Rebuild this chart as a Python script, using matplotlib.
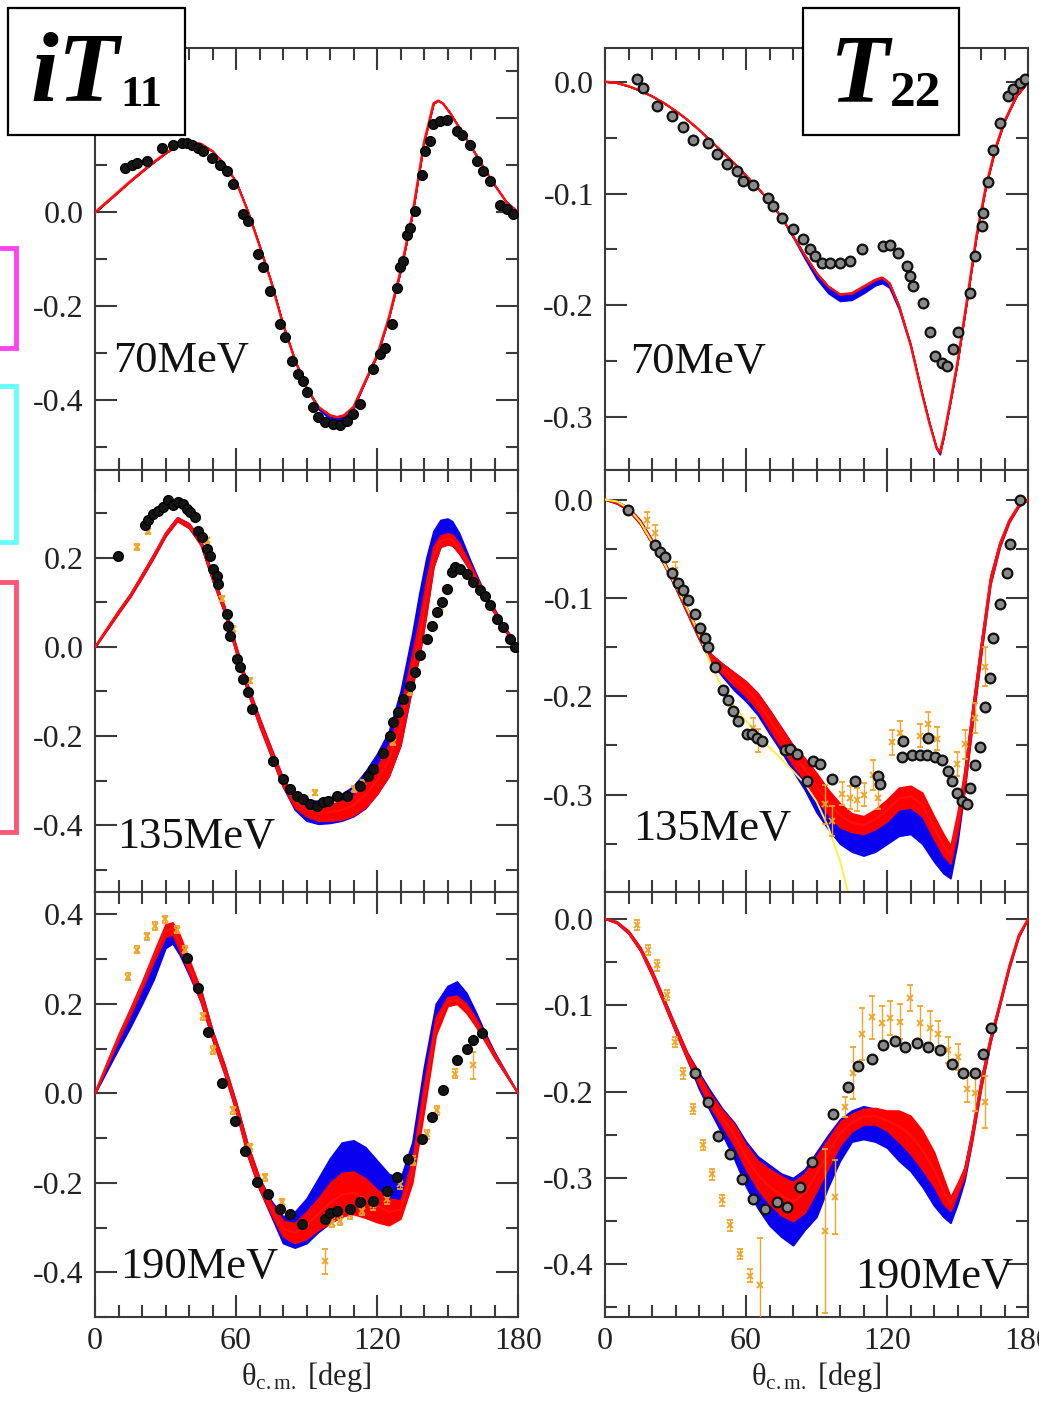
import numpy as np
import matplotlib.pyplot as plt
from matplotlib.patches import Rectangle
from matplotlib.lines import Line2D
from matplotlib.ticker import MultipleLocator, FuncFormatter

plt.rcParams['font.family'] = ['Liberation Serif', 'DejaVu Serif']
plt.rcParams['mathtext.fontset'] = 'custom'
plt.rcParams['mathtext.rm'] = 'Liberation Serif'
plt.rcParams['mathtext.it'] = 'Liberation Serif:italic'
plt.rcParams['mathtext.bf'] = 'Liberation Serif:bold'
plt.rcParams['axes.unicode_minus'] = False

# ---------------- iT11, 70 MeV ----------------
t11_70_th = [0, 5, 10, 15, 20, 25, 30, 35, 40, 45, 50, 55, 60, 65, 70, 75, 80, 85, 90, 95,
             100, 103, 106, 110, 115, 120, 125, 130, 135, 140, 144, 146, 148, 151, 155, 160, 165, 170, 175, 180]
t11_70_red = [0, 0.022, 0.044, 0.066, 0.087, 0.107, 0.126, 0.142, 0.150, 0.146, 0.130, 0.102, 0.065, 0.002,
              -0.072, -0.150, -0.240, -0.315, -0.375, -0.415, -0.433, -0.437, -0.433, -0.415, -0.36, -0.305,
              -0.225, -0.125, -0.005, 0.150, 0.232, 0.238, 0.232, 0.212, 0.180, 0.14, 0.098, 0.058, 0.022, 0]
t11_70_blue_lo = [0, 0.022, 0.044, 0.066, 0.087, 0.107, 0.126, 0.142, 0.150, 0.146, 0.130, 0.102, 0.065, 0.002,
                  -0.072, -0.150, -0.240, -0.315, -0.375, -0.42, -0.441, -0.445, -0.441, -0.42, -0.36, -0.305,
                  -0.225, -0.125, -0.005, 0.150, 0.232, 0.238, 0.232, 0.212, 0.180, 0.14, 0.098, 0.058, 0.022, 0]
t11_70_dat_th = [12.8, 15.6, 17.7, 22.0, 28.4, 33.3, 36.9, 39.0, 41.1, 44.0, 46.1, 49.6, 53.2, 56.0, 58.9, 63.1,
                 65.2, 69.5, 71.6, 74.5, 78.7, 80.9, 83.7, 86.5, 88.7, 90.1, 92.9, 95.0, 97.9, 101.4, 104.3, 107.1,
                 109.9, 112.8, 118.4, 121.3, 123.4, 126.2, 128.4, 129.8, 131.2, 132.6, 134.0, 136.2, 139.0, 140.4,
                 142.6, 144.0, 146.8, 149.6, 153.9, 156.0, 159.6, 162.4, 165.2, 168.1, 172.3, 175.2, 178.0]
t11_70_dat_v = [0.094, 0.101, 0.105, 0.109, 0.137, 0.144, 0.148, 0.148, 0.144, 0.137, 0.130, 0.116, 0.101, 0.087,
                0.059, -0.005, -0.019, -0.090, -0.118, -0.168, -0.239, -0.267, -0.317, -0.345, -0.360, -0.384,
                -0.416, -0.438, -0.448, -0.452, -0.455, -0.445, -0.430, -0.409, -0.335, -0.303, -0.289, -0.239,
                -0.161, -0.118, -0.104, -0.048, -0.033, 0.002, 0.080, 0.130, 0.151, 0.187, 0.194, 0.197, 0.172,
                0.165, 0.144, 0.109, 0.087, 0.066, 0.016, 0.006, -0.005]

# ---------------- iT11, 135 MeV ----------------
t11_135_th = [0, 5, 10, 15, 20, 25, 30, 35, 40, 45, 50, 55, 60, 65, 70, 75, 80, 85, 90, 95, 100, 105, 110,
              115, 120, 125, 130, 135, 138, 141, 144, 147, 150, 152, 155, 160, 165, 170, 175, 180]
t11_135_red_lo = [0, 0.038, 0.076, 0.113, 0.156, 0.201, 0.249, 0.283, 0.267, 0.229, 0.149, 0.078, -0.012, -0.102,
                  -0.178, -0.246, -0.314, -0.36, -0.38, -0.39, -0.39, -0.387, -0.378, -0.36, -0.33, -0.29, -0.22,
                  -0.085, -0.02, 0.075, 0.18, 0.225, 0.23, 0.228, 0.21, 0.168, 0.118, 0.075, 0.032, 0]
t11_135_red_hi = [0, 0.042, 0.082, 0.119, 0.164, 0.209, 0.257, 0.291, 0.277, 0.241, 0.161, 0.092, 0.002, -0.086,
                  -0.16, -0.228, -0.294, -0.335, -0.348, -0.352, -0.352, -0.345, -0.332, -0.305, -0.27, -0.22,
                  -0.14, -0.015, 0.06, 0.15, 0.225, 0.25, 0.255, 0.252, 0.232, 0.182, 0.128, 0.083, 0.038, 0]
t11_135_blue_lo = [0, 0.038, 0.076, 0.113, 0.156, 0.201, 0.249, 0.283, 0.267, 0.229, 0.149, 0.078, -0.012, -0.102,
                   -0.178, -0.246, -0.314, -0.365, -0.39, -0.397, -0.395, -0.39, -0.38, -0.362, -0.33, -0.29, -0.22,
                   -0.09, -0.02, 0.075, 0.18, 0.225, 0.23, 0.228, 0.21, 0.168, 0.118, 0.075, 0.032, 0]
t11_135_blue_hi = [0, 0.042, 0.082, 0.119, 0.164, 0.209, 0.257, 0.291, 0.277, 0.241, 0.161, 0.092, 0.002, -0.086,
                   -0.16, -0.228, -0.294, -0.335, -0.345, -0.345, -0.34, -0.33, -0.312, -0.28, -0.24, -0.19, -0.1,
                   0.03, 0.12, 0.2, 0.26, 0.285, 0.288, 0.282, 0.255, 0.19, 0.13, 0.085, 0.04, 0]
t11_135_dat_th = [9.9, 21.3, 22.7, 24.8, 27.0, 29.1, 31.2, 33.3, 35.5, 37.6, 39.0, 40.4, 42.6, 44.0, 45.4, 47.5,
                  48.9, 50.4, 51.8, 52.5, 56.0, 56.7, 57.4, 60.3, 61.7, 63.1, 65.2, 66.7, 75.9, 80.1, 83.0, 85.8,
                  88.7, 91.5, 94.3, 97.2, 99.3, 102.8, 107.1, 112.8, 116.3, 118.4, 122.7, 125.5, 127.0, 129.1,
                  131.2, 134.0, 136.2, 138.3, 141.1, 143.3, 145.4, 147.5, 149.6, 151.8, 153.2, 155.3, 158.2,
                  161.0, 163.8, 166.0, 168.1, 170.9, 173.8, 176.6, 178.7]
t11_135_dat_v = [0.205, 0.273, 0.284, 0.299, 0.306, 0.314, 0.329, 0.318, 0.325, 0.321, 0.310, 0.303, 0.291, 0.261,
                 0.246, 0.220, 0.205, 0.175, 0.160, 0.142, 0.074, 0.048, 0.025, -0.027, -0.046, -0.072, -0.102,
                 -0.139, -0.255, -0.297, -0.319, -0.334, -0.342, -0.353, -0.357, -0.349, -0.345, -0.334, -0.334,
                 -0.312, -0.289, -0.274, -0.237, -0.199, -0.169, -0.147, -0.117, -0.087, -0.057, -0.019, 0.018,
                 0.048, 0.078, 0.100, 0.130, 0.168, 0.179, 0.175, 0.164, 0.145, 0.127, 0.115, 0.093, 0.063, 0.044,
                 0.018, -0.001]
t11_135_org_th = [17.7, 22.7, 36.2, 47.5, 53.9, 58.9, 66.0, 93.6, 101.4, 110.0, 114.2, 127.0, 134.0, 146.8]
t11_135_org_v = [0.224, 0.26, 0.325, 0.239, 0.108, 0.040, -0.076, -0.327, -0.342, -0.319, -0.304, -0.214, -0.102, 0.078]
t11_135_org_err = [0.006, 0.006, 0.006, 0.006, 0.006, 0.006, 0.006, 0.006, 0.006, 0.006, 0.006, 0.006, 0.006, 0.006]

# ---------------- iT11, 190 MeV ----------------
t11_190_th = [0, 5, 10, 15, 20, 25, 30, 33, 36, 40, 45, 50, 55, 60, 65, 70, 75, 80, 85, 90, 95, 100, 105, 110,
              115, 120, 125, 130, 135, 140, 145, 150, 154, 158, 162, 166, 170, 175, 180]
t11_190_red_lo = [0, 0.06, 0.12, 0.175, 0.235, 0.295, 0.35, 0.355, 0.32, 0.27, 0.205, 0.12, 0.045, -0.04, -0.14,
                  -0.215, -0.27, -0.32, -0.335, -0.325, -0.305, -0.29, -0.275, -0.27, -0.278, -0.288, -0.295,
                  -0.28, -0.2, -0.04, 0.13, 0.195, 0.2, 0.18, 0.15, 0.115, 0.08, 0.04, 0]
t11_190_red_hi = [0, 0.068, 0.132, 0.19, 0.25, 0.315, 0.378, 0.382, 0.355, 0.3, 0.232, 0.14, 0.065, -0.02, -0.115,
                  -0.19, -0.245, -0.285, -0.29, -0.265, -0.235, -0.2, -0.178, -0.175, -0.19, -0.215, -0.235,
                  -0.24, -0.15, 0.02, 0.17, 0.215, 0.218, 0.2, 0.168, 0.13, 0.09, 0.045, 0]
t11_190_blue_lo = [0, 0.05, 0.1, 0.148, 0.2, 0.255, 0.325, 0.335, 0.31, 0.265, 0.205, 0.12, 0.045, -0.04, -0.14,
                   -0.215, -0.275, -0.335, -0.345, -0.335, -0.31, -0.29, -0.275, -0.265, -0.265, -0.27, -0.275,
                   -0.265, -0.185, -0.02, 0.15, 0.21, 0.215, 0.19, 0.155, 0.118, 0.08, 0.04, 0]
t11_190_blue_hi = [0, 0.062, 0.12, 0.175, 0.232, 0.29, 0.35, 0.36, 0.335, 0.29, 0.232, 0.14, 0.065, -0.02, -0.115,
                   -0.19, -0.24, -0.275, -0.265, -0.235, -0.19, -0.145, -0.11, -0.105, -0.12, -0.15, -0.18,
                   -0.19, -0.11, 0.06, 0.2, 0.24, 0.25, 0.225, 0.182, 0.135, 0.092, 0.046, 0]
t11_190_dat_th = [39.0, 44.0, 48.2, 53.9, 59.6, 63.8, 68.8, 73.8, 78.7, 83.0, 87.9, 97.9, 100.0, 102.8, 108.5,
                  112.8, 118.4, 124.1, 128.4, 133.3, 139.0, 143.3, 148.2, 153.9, 158.2, 161.0, 164.5]
t11_190_dat_v = [0.303, 0.235, 0.138, 0.022, -0.061, -0.128, -0.199, -0.225, -0.259, -0.27, -0.293, -0.282,
                 -0.267, -0.263, -0.259, -0.244, -0.240, -0.218, -0.188, -0.147, -0.102, -0.053, 0.007, 0.074,
                 0.1, 0.119, 0.134]
t11_190_org_th = [14.2, 17.7, 22.0, 25.5, 29.8, 34.8, 38.3, 46.1, 50.4, 58.9, 66.0, 72.3, 79.4, 97.9, 100.7,
                  104.3, 108.5, 113.5, 118.4, 124.1, 129.8, 135.5, 141.1, 145.4, 153.2, 161.0]
t11_190_org_v = [0.261, 0.321, 0.351, 0.374, 0.389, 0.366, 0.321, 0.172, 0.097, -0.038, -0.121, -0.188, -0.244,
                 -0.375, -0.289, -0.285, -0.272, -0.263, -0.25, -0.237, -0.203, -0.151, -0.091, -0.038, 0.044, 0.063]
t11_190_org_err = [0.008, 0.008, 0.008, 0.008, 0.008, 0.008, 0.008, 0.008, 0.008, 0.008, 0.008, 0.008, 0.008,
                   0.028, 0.01, 0.01, 0.01, 0.01, 0.01, 0.01, 0.01, 0.01, 0.01, 0.01, 0.01, 0.03]

# ---------------- T22, 70 MeV ----------------
t22_70_th = [0, 5, 10, 15, 20, 25, 30, 35, 40, 45, 50, 55, 60, 65, 70, 75, 80, 85, 90, 95, 100, 105, 110, 115,
             118, 121, 125, 130, 135, 138, 141, 142.5, 144, 147, 150, 154, 158, 162, 166, 170, 175, 180]
t22_70_red = [0, -0.001, -0.004, -0.008, -0.013, -0.019, -0.026, -0.034, -0.043, -0.053, -0.063, -0.073, -0.084,
              -0.095, -0.107, -0.121, -0.138, -0.155, -0.171, -0.183, -0.190, -0.189, -0.183, -0.177, -0.175,
              -0.180, -0.200, -0.235, -0.280, -0.305, -0.327, -0.331, -0.318, -0.285, -0.250, -0.195, -0.138,
              -0.094, -0.060, -0.035, -0.013, 0]
t22_70_blue_lo = [0, -0.001, -0.004, -0.008, -0.013, -0.019, -0.026, -0.034, -0.043, -0.053, -0.063, -0.073,
                  -0.084, -0.095, -0.107, -0.121, -0.139, -0.158, -0.176, -0.189, -0.196, -0.195, -0.189, -0.182,
                  -0.180, -0.184, -0.203, -0.236, -0.280, -0.305, -0.328, -0.333, -0.318, -0.285, -0.250, -0.195,
                  -0.138, -0.094, -0.060, -0.035, -0.013, 0]
t22_70_dat_th = [13.5, 16.3, 22.0, 28.4, 33.3, 37.6, 44.0, 47.5, 51.8, 56.0, 58.9, 63.1, 69.5, 71.6, 75.2, 80.1,
                 84.4, 87.2, 89.4, 92.2, 95.7, 100.0, 104.3, 109.2, 118.4, 121.3, 124.8, 128.4, 129.8, 131.2, 135.5,
                 138.3, 140.4, 143.3, 145.4, 148.2, 150.4, 155.3, 157.4, 160.3, 161.0, 163.1, 165.2, 168.1, 171.6,
                 173.8, 176.6, 178.7]
t22_70_dat_v = [0.002, -0.006, -0.022, -0.031, -0.041, -0.052, -0.055, -0.065, -0.074, -0.08, -0.089, -0.092,
                -0.104, -0.111, -0.122, -0.132, -0.141, -0.15, -0.156, -0.162, -0.162, -0.162, -0.16, -0.15,
                -0.147, -0.146, -0.153, -0.165, -0.174, -0.183, -0.198, -0.224, -0.245, -0.251, -0.254, -0.239,
                -0.224, -0.189, -0.156, -0.129, -0.117, -0.09, -0.061, -0.037, -0.013, -0.007, -0.001, 0.002]

# ---------------- T22, 135 MeV ----------------
t22_135_th = [0, 5, 10, 15, 20, 25, 30, 35, 40, 45, 50, 55, 60, 65, 70, 75, 80, 85, 90, 95, 100, 105, 110, 115,
              120, 125, 130, 135, 140, 144, 147, 150, 153, 156, 160, 164, 168, 172, 176, 180]
t22_135_red_lo = [0, -0.004, -0.011, -0.025, -0.045, -0.066, -0.09, -0.116, -0.142, -0.165, -0.177, -0.189, -0.2,
                  -0.214, -0.233, -0.252, -0.27, -0.285, -0.305, -0.32, -0.333, -0.338, -0.34, -0.335, -0.327,
                  -0.315, -0.313, -0.322, -0.345, -0.362, -0.37, -0.338, -0.295, -0.235, -0.158, -0.086, -0.048,
                  -0.023, -0.007, 0]
t22_135_red_hi = [0, -0.002, -0.008, -0.021, -0.041, -0.062, -0.086, -0.111, -0.136, -0.157, -0.167, -0.176,
                  -0.185, -0.197, -0.214, -0.232, -0.25, -0.263, -0.278, -0.295, -0.309, -0.319, -0.322, -0.315,
                  -0.305, -0.293, -0.291, -0.298, -0.322, -0.34, -0.352, -0.318, -0.275, -0.218, -0.146, -0.078,
                  -0.043, -0.02, -0.005, 0]
t22_135_blue_lo = [0, -0.004, -0.011, -0.025, -0.045, -0.066, -0.09, -0.116, -0.142, -0.165, -0.18, -0.194,
                   -0.205, -0.219, -0.238, -0.256, -0.276, -0.295, -0.318, -0.335, -0.35, -0.358, -0.362, -0.358,
                   -0.35, -0.342, -0.34, -0.35, -0.368, -0.38, -0.385, -0.348, -0.295, -0.235, -0.158, -0.086,
                   -0.048, -0.023, -0.007, 0]
t22_135_blue_hi = [0, -0.002, -0.008, -0.021, -0.041, -0.062, -0.086, -0.111, -0.136, -0.157, -0.167, -0.176,
                   -0.185, -0.197, -0.214, -0.232, -0.25, -0.263, -0.283, -0.3, -0.318, -0.332, -0.338, -0.335,
                   -0.328, -0.312, -0.31, -0.32, -0.342, -0.36, -0.365, -0.33, -0.275, -0.218, -0.146, -0.078,
                   -0.043, -0.02, -0.005, 0]
t22_135_yel_th = [0, 5, 10, 15, 20, 25, 30, 35, 40, 45, 50, 55, 60, 65, 70, 75, 80, 85, 90, 95, 100, 104]
t22_135_yel = [0, -0.002, -0.009, -0.023, -0.043, -0.064, -0.087, -0.111, -0.137, -0.167, -0.192, -0.21, -0.225,
               -0.239, -0.252, -0.264, -0.276, -0.289, -0.307, -0.333, -0.367, -0.405]
t22_135_dat_th = [9.9, 21.3, 23.4, 25.5, 28.4, 31.2, 33.3, 35.5, 38.3, 40.4, 42.6, 44.0, 46.8, 50.4, 52.5, 54.6,
                  56.7, 60.3, 62.4, 64.5, 66.7, 76.6, 78.7, 81.6, 85.8, 88.7, 91.5, 96.5, 106.4, 116.2, 117.0,
                  126.2, 127.0, 130.5, 134.0, 136.9, 137.6, 140.4, 143.3, 146.1, 147.5, 149.6, 151.8, 153.9,
                  155.3, 157.4, 159.6, 161.7, 163.8, 165.2, 168.1, 170.9, 172.3, 176.6]
t22_135_dat_v = [-0.011, -0.046, -0.053, -0.058, -0.075, -0.085, -0.092, -0.102, -0.116, -0.131, -0.141, -0.15,
                 -0.17, -0.194, -0.204, -0.215, -0.225, -0.238, -0.238, -0.242, -0.245, -0.255, -0.254, -0.259,
                 -0.286, -0.266, -0.269, -0.284, -0.286, -0.281, -0.289, -0.262, -0.245, -0.26, -0.26, -0.26,
                 -0.242, -0.262, -0.265, -0.276, -0.286, -0.298, -0.306, -0.31, -0.293, -0.27, -0.252, -0.211,
                 -0.181, -0.141, -0.106, -0.075, -0.045, 0.0]
t22_135_org_th = [17.7, 21.3, 29.8, 63.1, 65.2, 93.6, 96.5, 100.7, 104.3, 107.1, 110.0, 114.2, 116.3, 122.0,
                  125.5, 134.0, 137.6, 141.1, 149.6, 153.2, 157.4, 161.6]
t22_135_org_v = [-0.021, -0.034, -0.072, -0.232, -0.245, -0.31, -0.327, -0.299, -0.303, -0.305, -0.3, -0.28,
                 -0.303, -0.247, -0.237, -0.24, -0.228, -0.243, -0.269, -0.249, -0.222, -0.17]
t22_135_org_err = [0.008, 0.008, 0.008, 0.01, 0.012, 0.02, 0.015, 0.012, 0.012, 0.012, 0.012, 0.015, 0.012,
                   0.013, 0.012, 0.012, 0.012, 0.012, 0.012, 0.015, 0.015, 0.02]

# ---------------- T22, 190 MeV ----------------
t22_190_th = [0, 5, 10, 15, 20, 25, 30, 35, 40, 45, 50, 55, 60, 65, 70, 75, 80, 85, 90, 95, 100, 105, 110, 115,
              120, 125, 130, 135, 140, 144, 147, 150, 153, 156, 160, 164, 168, 172, 176, 180]
t22_190_red_lo = [0, -0.005, -0.017, -0.037, -0.066, -0.098, -0.131, -0.163, -0.192, -0.218, -0.24, -0.262, -0.29,
                  -0.313, -0.33, -0.343, -0.35, -0.34, -0.315, -0.288, -0.262, -0.246, -0.238, -0.238, -0.245,
                  -0.258, -0.272, -0.29, -0.31, -0.33, -0.338, -0.318, -0.298, -0.26, -0.196, -0.143, -0.1,
                  -0.057, -0.021, 0]
t22_190_red_hi = [0, -0.003, -0.014, -0.033, -0.06, -0.092, -0.124, -0.155, -0.18, -0.204, -0.222, -0.238,
                  -0.262, -0.28, -0.29, -0.298, -0.305, -0.295, -0.275, -0.255, -0.235, -0.226, -0.22, -0.219,
                  -0.222, -0.222, -0.228, -0.245, -0.27, -0.3, -0.322, -0.306, -0.288, -0.248, -0.186, -0.136,
                  -0.096, -0.053, -0.018, 0]
t22_190_blue_lo = [0, -0.005, -0.017, -0.037, -0.066, -0.098, -0.131, -0.163, -0.197, -0.224, -0.25, -0.278,
                   -0.31, -0.335, -0.355, -0.368, -0.378, -0.36, -0.345, -0.31, -0.28, -0.258, -0.255, -0.258,
                   -0.265, -0.28, -0.292, -0.31, -0.332, -0.345, -0.352, -0.33, -0.303, -0.26, -0.196, -0.143,
                   -0.1, -0.057, -0.021, 0]
t22_190_blue_hi = [0, -0.003, -0.014, -0.033, -0.06, -0.092, -0.124, -0.155, -0.178, -0.2, -0.22, -0.236,
                   -0.258, -0.275, -0.285, -0.295, -0.3, -0.29, -0.27, -0.25, -0.232, -0.222, -0.217, -0.22,
                   -0.232, -0.25, -0.268, -0.285, -0.31, -0.325, -0.335, -0.31, -0.288, -0.248, -0.186, -0.136,
                   -0.096, -0.053, -0.018, 0]
t22_190_dat_th = [38.3, 44.0, 48.2, 53.2, 58.2, 63.1, 68.1, 73.0, 77.3, 83.0, 87.9, 97.2, 103.5, 107.8, 113.5,
                  118.4, 123.4, 127.7, 132.6, 137.6, 142.6, 147.5, 152.5, 157.4, 160.8, 164.2]
t22_190_dat_v = [-0.179, -0.212, -0.251, -0.272, -0.301, -0.324, -0.336, -0.328, -0.334, -0.311, -0.282, -0.226,
                 -0.195, -0.171, -0.162, -0.146, -0.141, -0.148, -0.144, -0.148, -0.152, -0.168, -0.178, -0.178,
                 -0.156, -0.127]
t22_190_org_th = [13.5, 18.4, 22.0, 26.2, 29.8, 33.3, 37.6, 41.8, 45.6, 49.6, 53.3, 57.4, 61.7, 66.0, 93.6, 97.9,
                  102.1, 105.7, 109.2, 113.5, 117.7, 121.3, 125.5, 129.8, 134.0, 138.3, 141.8, 146.1, 150.4,
                  154.0, 157.4, 161.7]
t22_190_org_v = [-0.007, -0.036, -0.054, -0.088, -0.143, -0.179, -0.22, -0.262, -0.296, -0.326, -0.355, -0.388,
                 -0.413, -0.424, -0.361, -0.322, -0.218, -0.179, -0.133, -0.114, -0.121, -0.115, -0.119, -0.092,
                 -0.121, -0.127, -0.133, -0.152, -0.16, -0.197, -0.202, -0.212]
t22_190_org_err = [0.006, 0.006, 0.006, 0.006, 0.006, 0.006, 0.006, 0.006, 0.006, 0.006, 0.006, 0.006, 0.008,
                   0.055, 0.095, 0.043, 0.012, 0.03, 0.03, 0.025, 0.02, 0.02, 0.02, 0.015, 0.02, 0.02, 0.015,
                   0.015, 0.015, 0.015, 0.02, 0.03]

energy_labels = ['70MeV', '135MeV', '190MeV']

panels = [
    dict(row=0, col=0, th=t11_70_th, rlo=t11_70_red, rhi=t11_70_red, blo=t11_70_blue_lo, bhi=t11_70_red,
         dat=(t11_70_dat_th, t11_70_dat_v), org=None, ylim=(-0.55, 0.35)),
    dict(row=1, col=0, th=t11_135_th, rlo=t11_135_red_lo, rhi=t11_135_red_hi, blo=t11_135_blue_lo,
         bhi=t11_135_blue_hi, dat=(t11_135_dat_th, t11_135_dat_v),
         org=(t11_135_org_th, t11_135_org_v, t11_135_org_err), ylim=(-0.55, 0.397)),
    dict(row=2, col=0, th=t11_190_th, rlo=t11_190_red_lo, rhi=t11_190_red_hi, blo=t11_190_blue_lo,
         bhi=t11_190_blue_hi, dat=(t11_190_dat_th, t11_190_dat_v),
         org=(t11_190_org_th, t11_190_org_v, t11_190_org_err), ylim=(-0.5, 0.45)),
    dict(row=0, col=1, th=t22_70_th, rlo=t22_70_red, rhi=t22_70_red, blo=t22_70_blue_lo, bhi=t22_70_red,
         dat=(t22_70_dat_th, t22_70_dat_v), org=None, ylim=(-0.347, 0.03)),
    dict(row=1, col=1, th=t22_135_th, rlo=t22_135_red_lo, rhi=t22_135_red_hi, blo=t22_135_blue_lo,
         bhi=t22_135_blue_hi, dat=(t22_135_dat_th, t22_135_dat_v),
         org=(t22_135_org_th, t22_135_org_v, t22_135_org_err), ylim=(-0.399, 0.03)),
    dict(row=2, col=1, th=t22_190_th, rlo=t22_190_red_lo, rhi=t22_190_red_hi, blo=t22_190_blue_lo,
         bhi=t22_190_blue_hi, dat=(t22_190_dat_th, t22_190_dat_v),
         org=(t22_190_org_th, t22_190_org_v, t22_190_org_err), ylim=(-0.461, 0.031)),
]

W, H = 1039, 1402
fig = plt.figure(figsize=(W / 100, H / 100), dpi=100)

col_left = [95 / W, 605 / W]
ax_w = 423 / W
row_px = [(48, 470), (470, 892), (892, 1317)]

label_pos = {(0, 0): (0.043, 0.258, 'left'), (1, 0): (0.052, 0.131, 'left'), (2, 0): (0.059, 0.118, 'left'),
             (0, 1): (0.059, 0.256, 'left'), (1, 1): (0.066, 0.150, 'left'), (2, 1): (0.965, 0.095, 'right')}

orange = '#f0a428'
frame = '#3a3a3a'


def ylab(v, pos, hide=None):
    if hide is not None and abs(v - hide) < 1e-6:
        return ''
    return '%.1f' % v


for p in panels:
    top, bot = row_px[p['row']]
    ax = fig.add_axes([col_left[p['col']], 1 - bot / H, ax_w, (bot - top) / H])
    th = np.array(p['th'])
    rlo, rhi = np.array(p['rlo']), np.array(p['rhi'])
    blo, bhi = np.array(p['blo']), np.array(p['bhi'])

    ax.fill_between(th, blo, bhi, color='#0a00f0', lw=1.2, zorder=2)
    ax.fill_between(th, rlo, rhi, color='#ff0000', lw=1.2, zorder=3)
    ax.plot(th, (rlo + rhi) / 2, color='#ff1010', lw=1.6, zorder=4)

    if p['row'] == 1 and p['col'] == 1:
        ax.plot(t22_135_yel_th, t22_135_yel, color='#ffee44', lw=1.4, zorder=5)

    if p['org'] is not None:
        ot, ov, oe = p['org']
        ax.errorbar(ot, ov, yerr=oe, fmt='x', color=orange, ms=4, mew=1.3, elinewidth=1.0,
                    capsize=2.5, capthick=1.0, zorder=6)

    dt, dv = p['dat']
    if p['col'] == 0:
        ax.plot(dt, dv, 'o', ms=7, mfc='#151515', mec='#000000', mew=1.0, zorder=7)
    else:
        ax.plot(dt, dv, 'o', ms=7, mfc='#8a8a8a', mec='#111111', mew=1.6, zorder=7)

    ax.set_xlim(0, 180)
    ax.set_ylim(*p['ylim'])
    ax.xaxis.set_major_locator(MultipleLocator(60))
    ax.xaxis.set_minor_locator(MultipleLocator(10))
    if p['col'] == 0:
        ax.yaxis.set_major_locator(MultipleLocator(0.2))
        ax.yaxis.set_minor_locator(MultipleLocator(0.1))
    else:
        ax.yaxis.set_major_locator(MultipleLocator(0.1))
        ax.yaxis.set_minor_locator(MultipleLocator(0.05))
    # the 0.2 label of the top-left panel sits under the iT11 box
    hide = 0.2 if (p['row'] == 0 and p['col'] == 0) else None
    ax.yaxis.set_major_formatter(FuncFormatter(lambda v, pos, h=hide: ylab(v, pos, h)))
    ax.tick_params(which='both', direction='in', top=True, right=True, color=frame, width=1.5,
                   labelsize=23, labelcolor='#222222')
    ax.tick_params(which='major', length=16)
    ax.tick_params(which='minor', length=8.5)
    ax.tick_params(axis='y', pad=8)
    ax.tick_params(axis='x', pad=7)
    for s in ax.spines.values():
        s.set_color(frame)
        s.set_linewidth(1.5)

    if p['row'] < 2:
        ax.tick_params(axis='x', labelbottom=False)
    else:
        ax.set_xlabel(r'$\mathrm{\theta}_{\mathrm{c.m.}}$ [deg]', fontsize=22, labelpad=3, color='#222222')

    lx, ly, ha = label_pos[(p['row'], p['col'])]
    ax.text(lx, ly, energy_labels[p['row']], transform=ax.transAxes, fontsize=32, ha=ha, va='center',
            color='#111111', zorder=8)

# boxed observable labels
renderer = fig.canvas.get_renderer()
for (x0, x1), main, main_x, main_fs, sub, sub_fs in [((8, 185), 'iT', 30, 72, '11', 32),
                                                     ((803, 959), 'T', 830, 70, '22', 37)]:
    rect = Rectangle((x0 / W, 1 - 135 / H), (x1 - x0) / W, 127 / H, transform=fig.transFigure,
                     facecolor='white', edgecolor='black', lw=1.6, zorder=10)
    fig.add_artist(rect)
    t = fig.text(main_x / W, 1 - 101 / H, main, fontsize=main_fs, fontweight='bold', fontstyle='italic',
                 ha='left', va='baseline', zorder=11)
    bb = t.get_window_extent(renderer)
    fig.text((bb.x1 + 1) / W, 1 - 106 / H, sub, fontsize=sub_fs, fontweight='bold', ha='left',
             va='baseline', zorder=11)

# coloured brackets at the left margin
for (ytop, ybot), c in [((248, 348), '#ff44ee'), ((386, 542), '#66ffff'), ((582, 832), '#ff5577')]:
    fig.add_artist(Line2D([0, 16 / W, 16 / W, 0], [1 - ytop / H, 1 - ytop / H, 1 - ybot / H, 1 - ybot / H],
                          transform=fig.transFigure, color=c, lw=3.5, solid_joinstyle='miter'))

fig.savefig('out.png', dpi=100)
